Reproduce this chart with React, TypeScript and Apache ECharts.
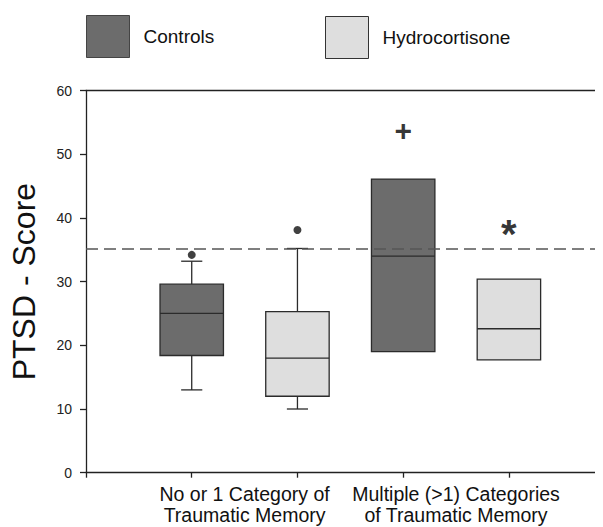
import React, { useEffect, useRef } from "react";
import * as echarts from "echarts";

// positions on the x value axis (ticks at 1..4)
const controlsX = [1, 3];
const hydroX = [2, 4];
// [min, q1, median, q3, max]
const controlsStats = [
  [13, 18.4, 25, 29.6, 33.2],
  [19, 19, 34, 46.1, 46.1],
];
const hydroStats = [
  [10, 12, 18, 25.3, 35.2],
  [17.7, 17.7, 22.6, 30.4, 30.4],
];
const outliers = [
  [1, 34.2],
  [2, 38.1],
];
const markers = [
  { x: 3, y: 53.7, sym: "+" },
  { x: 4, y: 38.9, sym: "*" },
];
const cutoff = 35.2;
const groupLabels = [
  { x: 1.5, text: "No or 1 Category of\nTraumatic Memory" },
  { x: 3.5, text: "Multiple (>1) Categories\nof Traumatic Memory" },
];
const yTicks = [0, 10, 20, 30, 40, 50, 60];

const BOX_W = 0.6;
const CAP_W = 0.2;
const X_MAX = 4.89;

function makeRender(fill: string) {
  return (params: any, api: any) => {
    const x = api.value(0);
    const mn = api.value(1);
    const q1 = api.value(2);
    const md = api.value(3);
    const q3 = api.value(4);
    const mx = api.value(5);
    const halfW = api.size([BOX_W, 0])[0] / 2;
    const capHalf = api.size([CAP_W, 0])[0] / 2;
    const pMin = api.coord([x, mn]);
    const pQ1 = api.coord([x, q1]);
    const pMd = api.coord([x, md]);
    const pQ3 = api.coord([x, q3]);
    const pMax = api.coord([x, mx]);
    const stroke = { stroke: "#2b2b2b", lineWidth: 1.3, fill: "none" };
    const children: any[] = [];
    if (mx > q3) {
      children.push({ type: "line", shape: { x1: pQ3[0], y1: pQ3[1], x2: pMax[0], y2: pMax[1] }, style: stroke });
      children.push({ type: "line", shape: { x1: pMax[0] - capHalf, y1: pMax[1], x2: pMax[0] + capHalf, y2: pMax[1] }, style: stroke });
    }
    if (mn < q1) {
      children.push({ type: "line", shape: { x1: pQ1[0], y1: pQ1[1], x2: pMin[0], y2: pMin[1] }, style: stroke });
      children.push({ type: "line", shape: { x1: pMin[0] - capHalf, y1: pMin[1], x2: pMin[0] + capHalf, y2: pMin[1] }, style: stroke });
    }
    children.push({
      type: "rect",
      shape: { x: pQ3[0] - halfW, y: pQ3[1], width: halfW * 2, height: pQ1[1] - pQ3[1] },
      style: { fill, stroke: "#2b2b2b", lineWidth: 1.3 },
    });
    children.push({
      type: "line",
      shape: { x1: pMd[0] - halfW, y1: pMd[1], x2: pMd[0] + halfW, y2: pMd[1] },
      style: stroke,
    });
    return { type: "group", children };
  };
}

export default function App() {
  const ref = useRef<HTMLDivElement>(null);
  useEffect(() => {
    if (!ref.current) return;
    const chart = echarts.init(ref.current, undefined, { renderer: "svg" });
    const controlsData = controlsX.map((x, i) => [x, ...controlsStats[i]]);
    const hydroData = hydroX.map((x, i) => [x, ...hydroStats[i]]);
    const mainFont = "'Liberation Sans', Arial, sans-serif";
    const legendCommon = {
      padding: 0,
      itemWidth: 43,
      itemHeight: 42,
      icon: "rect",
      textStyle: { fontSize: 19, color: "#111", fontFamily: mainFont, padding: [0, 0, 0, 9] },
    };
    chart.setOption({
      animation: false,
      backgroundColor: "#ffffff",
      grid: { left: 86, right: 0, top: 90.5, bottom: 54.3 },
      legend: [
        {
          ...legendCommon,
          data: ["Controls"],
          left: 86,
          top: 15,
          itemStyle: { borderColor: "#444", borderWidth: 1 },
        },
        {
          ...legendCommon,
          data: ["Hydrocortisone"],
          left: 325,
          top: 16,
          itemStyle: { borderColor: "#333", borderWidth: 1 },
        },
      ],
      xAxis: [
        {
          type: "value",
          min: 0,
          max: X_MAX,
          interval: 1,
          position: "bottom",
          axisLine: { show: true, lineStyle: { color: "#222", width: 1.3 } },
          axisTick: { show: true, length: 5, lineStyle: { color: "#222", width: 1.3 } },
          axisLabel: { show: false },
          splitLine: { show: false },
        },
        {
          type: "value",
          min: 0,
          max: X_MAX,
          interval: 0.5,
          position: "bottom",
          axisLine: { show: false },
          axisTick: { show: false },
          splitLine: { show: false },
          axisLabel: {
            show: true,
            margin: 11,
            showMaxLabel: false,
            fontSize: 19.5,
            lineHeight: 21,
            color: "#111",
            fontFamily: mainFont,
            formatter: (v: number) => {
              const g = groupLabels.find((l) => Math.abs(l.x - v) < 1e-6);
              return g ? g.text : "";
            },
          },
        },
        {
          type: "value",
          min: 0,
          max: X_MAX,
          position: "top",
          axisLine: { show: true, lineStyle: { color: "#222", width: 1.3 } },
          axisTick: { show: false },
          axisLabel: { show: false },
          splitLine: { show: false },
        },
      ],
      yAxis: {
        type: "value",
        min: yTicks[0],
        max: yTicks[yTicks.length - 1],
        interval: 10,
        name: "PTSD - Score",
        nameLocation: "middle",
        nameRotate: 90,
        nameGap: 46,
        nameTextStyle: { fontSize: 32, color: "#111", fontFamily: mainFont },
        axisLine: { show: true, lineStyle: { color: "#222", width: 1.3 } },
        axisTick: { show: true, length: 6, lineStyle: { color: "#222", width: 1.3 } },
        axisLabel: { margin: 14, fontSize: 14, color: "#222", fontFamily: mainFont },
        splitLine: { show: false },
      },
      series: [
        {
          name: "Controls",
          type: "custom",
          xAxisIndex: 0,
          itemStyle: { color: "#6c6c6c" },
          encode: { x: 0, y: [1, 2, 3, 4, 5] },
          renderItem: makeRender("#6c6c6c"),
          data: controlsData,
          z: 3,
        },
        {
          name: "Hydrocortisone",
          type: "custom",
          xAxisIndex: 0,
          itemStyle: { color: "#dedede" },
          encode: { x: 0, y: [1, 2, 3, 4, 5] },
          renderItem: makeRender("#dedede"),
          data: hydroData,
          z: 3,
          markLine: {
            silent: true,
            symbol: "none",
            label: { show: false },
            lineStyle: { color: "#555", type: [12, 6], width: 1.6 },
            data: [{ yAxis: cutoff }],
            z: 5,
          },
        },
        {
          name: "outliers",
          type: "scatter",
          xAxisIndex: 0,
          symbol: "circle",
          symbolSize: 8,
          itemStyle: { color: "#111" },
          data: outliers,
          z: 6,
        },
        {
          name: "markers",
          type: "scatter",
          xAxisIndex: 0,
          symbol: "circle",
          symbolSize: 1,
          itemStyle: { color: "rgba(0,0,0,0)" },
          label: {
            show: true,
            position: "inside",
            fontSize: 30,
            fontWeight: "bold",
            color: "#000",
            fontFamily: mainFont,
          },
          data: markers.map((m) =>
            m.sym === "*"
              ? { value: [m.x, m.y], label: { formatter: m.sym, fontSize: 40, offset: [0, 9] } }
              : { value: [m.x, m.y], label: { formatter: m.sym } }
          ),
          z: 6,
        },
      ],
    });
    return () => chart.dispose();
  }, []);
  return <div ref={ref} style={{ width: 603, height: 527, marginLeft: -8, marginTop: -8 }} />;
}
